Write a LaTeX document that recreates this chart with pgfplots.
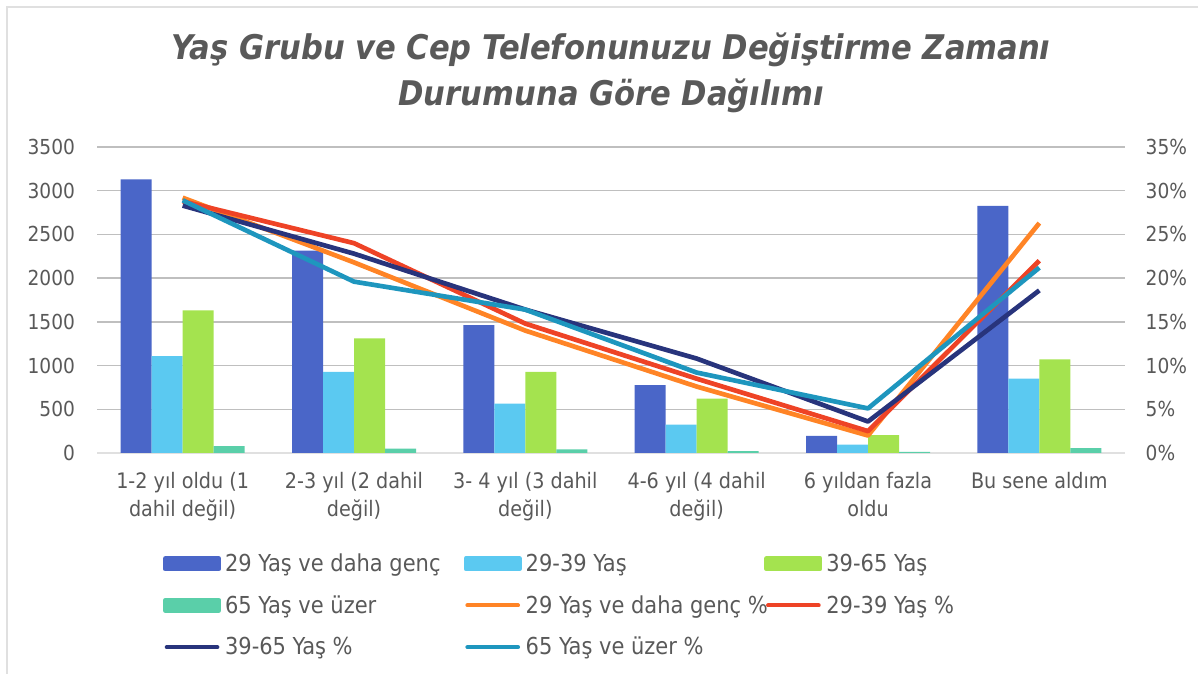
\documentclass[border=0pt]{standalone}
\usepackage{pgfplots}
\pgfplotsset{compat=1.18}
\usepackage{fontspec}
\setmainfont{DejaVu Sans Condensed}
\definecolor{txt}{HTML}{595959}
\definecolor{grid}{HTML}{E0E0E0}
\definecolor{cA}{HTML}{4A66C8}
\definecolor{cB}{HTML}{5BC9F1}
\definecolor{cC}{HTML}{A4E34F}
\definecolor{cD}{HTML}{5ACFA9}
\definecolor{lA}{HTML}{FF8426}
\definecolor{lB}{HTML}{EE4326}
\definecolor{lC}{HTML}{28347C}
\definecolor{lD}{HTML}{1E96BE}
\begin{document}
\begin{tikzpicture}[x=0.75pt,y=0.75pt]
\useasboundingbox (0,0) rectangle (1201,677);
\draw[grid, line width=1pt] (7,3) -- (7,670) -- (1198,670);
\node[txt, font=\fontsize{25.5}{34}\selectfont\bfseries\itshape, align=center] at (611,604) {Yaş Grubu ve Cep Telefonunuzu Değiştirme Zamanı\\Durumuna Göre Dağılımı};
\begin{axis}[
  at={(72.75pt,168pt)}, anchor=south west,
  scale only axis, width=771pt, height=229.5pt,
  ybar=0pt, bar width=23.25pt,
  xmin=-0.5, xmax=5.5, ymin=0, ymax=3500,
  xtick={0,...,5},
  xticklabels={{1-2 yıl oldu (1\\dahil değil)},{2-3 yıl (2 dahil\\değil)},{3- 4 yıl (3 dahil\\değil)},{4-6 yıl (4 dahil\\değil)},{6 yıldan fazla\\oldu},{Bu sene aldım}},
  xticklabel style={align=center, font=\fontsize{16}{21}\selectfont, text=txt, anchor=north, yshift=-11pt},
  ytick={0,500,...,3500},
  yticklabel style={font=\fontsize{15.5}{18}\selectfont, text=txt, xshift=-13pt},
  /pgf/number format/assume math mode=true,
  /pgf/number format/1000 sep={},
  xmajorgrids=false, ymajorgrids=true, grid style={grid, line width=1pt},
  axis x line*=bottom, axis y line*=left,
  x axis line style={grid, line width=1pt, -}, y axis line style={draw=none},
  major tick length=0pt,
  clip=false,
]
\addplot[fill=cA, draw=none] coordinates {(0,3131) (1,2314) (2,1463) (3,776) (4,195) (5,2826)};
\addplot[fill=cB, draw=none] coordinates {(0,1109) (1,928) (2,566) (3,325) (4,97) (5,852)};
\addplot[fill=cC, draw=none] coordinates {(0,1632) (1,1310) (2,928) (3,623) (4,203) (5,1070)};
\addplot[fill=cD, draw=none] coordinates {(0,78) (1,50) (2,42) (3,22) (4,12) (5,55)};
\end{axis}
\begin{axis}[
  at={(72.75pt,168pt)}, anchor=south west,
  scale only axis, width=771pt, height=229.5pt,
  xmin=-0.5, xmax=5.5, ymin=0, ymax=35,
  axis x line=none, axis y line*=right, y axis line style={draw=none},
  xmajorgrids=false, ymajorgrids=false,
  ytick={0,5,...,35},
  yticklabel={\pgfmathprintnumber{\tick}\%},
  yticklabel style={font=\fontsize{15.5}{18}\selectfont, text=txt, xshift=12pt, anchor=west},
  /pgf/number format/assume math mode=true,
  major tick length=0pt,
  clip=false,
  legend columns=3,
  legend style={at={(0.064,-0.32)}, anchor=north west, draw=none, fill=none, inner sep=0pt,
    font=\fontsize{17.5}{20}\selectfont, text=txt, row sep=12.5pt,
    /tikz/every odd column/.append style={column sep=1pt}},
  legend cell align=left,
]
\addlegendimage{legend image code/.code={\fill[cA] (0pt,-4pt) rectangle (40pt,4pt);}}
\addlegendentry{\makebox[177pt][l]{29 Yaş ve daha genç}}
\addlegendimage{legend image code/.code={\fill[cB] (0pt,-4pt) rectangle (40pt,4pt);}}
\addlegendentry{\makebox[177pt][l]{29-39 Yaş}}
\addlegendimage{legend image code/.code={\fill[cC] (0pt,-4pt) rectangle (40pt,4pt);}}
\addlegendentry{39-65 Yaş}
\addlegendimage{legend image code/.code={\fill[cD] (0pt,-4pt) rectangle (40pt,4pt);}}
\addlegendentry{\makebox[177pt][l]{65 Yaş ve üzer}}
\pgfplotsset{every axis plot/.append style={line width=3.5pt, line join=round, mark=none},
  legend image code/.code={\draw[#1, line width=3pt, line cap=round] (1pt,0pt) -- (39pt,0pt);}}
\addplot[lA] coordinates {(0,29.2) (1,21.8) (2,14.0) (3,7.6) (4,2.0) (5,26.3)};
\addlegendentry{\makebox[177pt][l]{29 Yaş ve daha genç \%}}
\addplot[lB] coordinates {(0,28.8) (1,24.0) (2,14.8) (3,8.5) (4,2.5) (5,22.0)};
\addlegendentry{29-39 Yaş \%}
\addplot[lC] coordinates {(0,28.3) (1,22.8) (2,16.4) (3,10.8) (4,3.6) (5,18.6)};
\addlegendentry{\makebox[177pt][l]{39-65 Yaş \%}}
\addplot[lD] coordinates {(0,28.9) (1,19.6) (2,16.4) (3,9.2) (4,5.1) (5,21.2)};
\addlegendentry{\makebox[177pt][l]{65 Yaş ve üzer \%}}
\end{axis}
\end{tikzpicture}
\end{document}
